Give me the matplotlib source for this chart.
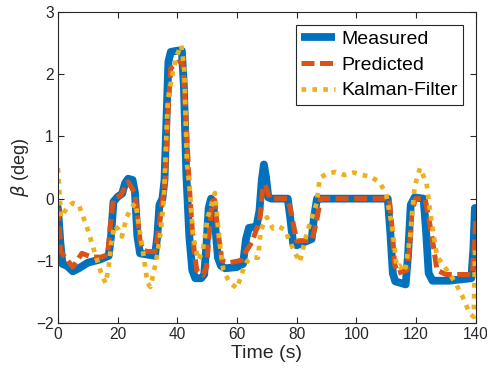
import matplotlib
matplotlib.use("Agg")
import matplotlib.pyplot as plt

plt.rcParams['font.family'] = ['Liberation Sans', 'DejaVu Sans']
plt.rcParams['mathtext.fontset'] = 'dejavusans'

# Measured
t_meas = [0, 0.8, 1.5, 3, 5, 7, 10, 14, 17, 17.8, 18.6, 20, 21.5, 22.5, 23.5, 25, 25.8,
          26.6, 27.5, 30, 32.5, 33.3, 34, 35, 35.7, 36.3, 37, 37.8, 40, 41.5, 42.2, 43,
          44, 45, 46, 48, 49, 49.8, 50.5, 51.3, 52, 52.8, 53.6, 54.6, 56, 60, 62, 63, 64,
          66.5, 67.5, 68.3, 69, 69.7, 70.5, 71.5, 77, 77.8, 78.8, 80, 85, 85.8, 86.8, 88,
          110.5, 111.3, 112.2, 113, 116.5, 117.3, 118.2, 119.5, 122.5, 123.3, 124.2, 125.5,
          131, 138.5, 139.2, 139.7]
v_meas = [-0.15, -0.7, -1.05, -1.08, -1.17, -1.12, -1.03, -0.98, -0.92, -0.6, -0.05, 0.03,
          0.08, 0.25, 0.32, 0.3, 0.1, -0.6, -0.88, -0.9, -0.92, -0.6, -0.1, 0.0, 0.3, 1.2,
          2.2, 2.36, 2.38, 2.38, 1.8, 0.4, -0.6, -1.15, -1.28, -1.28, -1.22, -0.7, -0.15,
          0.0, -0.05, -0.5, -0.95, -1.08, -1.12, -1.1, -1.05, -0.65, -0.47, -0.45, -0.2,
          0.3, 0.55, 0.35, 0.02, 0.0, 0.0, -0.3, -0.72, -0.75, -0.65, -0.3, 0.0, 0.0,
          0.0, -0.5, -1.2, -1.33, -1.38, -0.9, -0.1, 0.02, 0.0, -0.5, -1.2, -1.32,
          -1.32, -1.28, -0.8, -0.15]

# Predicted
t_pred = [0, 1, 2.3, 5, 8, 11.4, 14.7, 16.7, 17.5, 18.6, 21, 23.5, 25.8, 27.5, 28.5, 30,
          32.5, 33.2, 35, 36, 37, 37.8, 40.5, 41.8, 42.8, 44, 45.3, 46.5, 48.6, 49.8,
          50.8, 51.6, 52.5, 53.5, 55, 57.6, 61.6, 63, 65, 67.6, 68.7, 69.5, 71, 77,
          77.8, 78.7, 80, 85, 86, 86.7, 88, 111, 111.8, 112.8, 113.8, 117, 117.8, 118.6,
          119.8, 123, 123.8, 125.2, 127, 130, 138.8, 139.5, 140]
v_pred = [-0.15, -0.85, -0.94, -1.1, -0.88, -0.94, -0.94, -0.9, -0.45, 0.0, 0.05, 0.27,
          0.09, -0.67, -0.83, -0.85, -0.85, -0.67, -0.05, 0.3, 1.5, 2.1, 2.2, 2.2, 1.4,
          0.2, -0.7, -1.15, -1.23, -1.1, -0.5, -0.05, -0.02, -0.5, -1.0, -1.03, -0.99,
          -0.85, -0.7, -0.35, 0.2, 0.22, 0.0, 0.0, -0.15, -0.37, -0.68, -0.67, -0.5, -0.35,
          0.0, 0.0, -0.4, -1.05, -1.2, -1.15, -0.8, -0.2, 0.0, 0.0, -0.2, -0.58, -1.15,
          -1.22, -1.22, -0.8, -0.3]

# Kalman-Filter
t_kal = [0, 1, 3, 5, 7, 10, 12.4, 14.7, 16, 17, 18, 19, 20.3, 21.4, 23, 24.5, 26, 27.5,
         28.4, 30, 31, 33, 34.5, 35.5, 36.8, 38.5, 39.8, 41.3, 42.3, 43.2, 44.2, 45.3, 47,
         48.5, 50.2, 52.6, 54.2, 55.4, 57.5, 60, 62, 63.5, 65.4, 67, 68, 70, 72, 74, 76,
         78.7, 81, 83.4, 86.7, 87.7, 90, 93, 96, 99, 102, 105, 108, 110, 112, 113.5,
         114.5, 115.6, 116.5, 118, 119.5, 121.3, 123.5, 124.6, 127, 129.6, 133, 135.6,
         138, 139.3, 139.8]
v_kal = [0.49, -0.3, -0.15, -0.07, -0.1, -0.5, -0.88, -1.23, -1.36, -1.1, -0.66, -0.43,
         -0.5, -0.61, -0.3, -0.15, -0.07, -0.55, -0.82, -1.36, -1.42, -0.98, -0.5, 0.0,
         1.59, 2.03, 2.3, 2.47, 2.1, 0.57, 0.14, -0.61, -0.99, -0.85, -0.3, 0.09, -0.72,
         -1.15, -1.35, -1.44, -1.15, -1.0, -0.94, -0.95, -0.5, -0.3, -0.48, -0.45, -0.5,
         -0.8, -1.02, -0.55, -0.07, 0.33, 0.4, 0.43, 0.38, 0.42, 0.38, 0.35, 0.25, 0.06,
         -0.46, -1.1, -1.08, -1.18, -1.1, -0.61, 0.19, 0.49, 0.25, -0.18, -0.93, -1.1,
         -1.34, -1.58, -1.85, -1.9, -0.8]

x_ticks = [0, 20, 40, 60, 80, 100, 120, 140]
y_ticks = [-2, -1, 0, 1, 2, 3]

c_blue = '#0072BD'
c_red = '#D95319'
c_yel = '#EDB120'
dark = '#262626'

fig = plt.figure(figsize=(4.87, 3.78), dpi=100)
ax = fig.add_axes([0.119, 0.1455, 0.858, 0.8225])

ax.plot(t_meas, v_meas, color=c_blue, lw=5.6, solid_joinstyle='round',
        solid_capstyle='round', label='Measured')
ax.plot(t_pred, v_pred, color=c_red, lw=3.6, linestyle=(0, (2.6, 1.1)),
        dash_capstyle='butt', label='Predicted')
ax.plot(t_kal, v_kal, color=c_yel, lw=3.4, linestyle=(0, (1, 1.3)),
        dash_capstyle='butt', label='Kalman-Filter')

ax.set_xlim(0, 140)
ax.set_ylim(-2, 3)
ax.set_xticks(x_ticks)
ax.set_yticks(y_ticks)
ax.tick_params(direction='in', top=True, right=True, length=4, width=0.8,
               colors=dark, labelsize=11.2, pad=3)
for s in ax.spines.values():
    s.set_color(dark)
    s.set_linewidth(0.8)

ax.set_xlabel('Time (s)', fontsize=14, color=dark, labelpad=2)
ax.set_ylabel(r'$\beta$ (deg)', fontsize=13, color=dark, labelpad=4)

leg = ax.legend(loc='upper right', fontsize=14, frameon=True, fancybox=False,
                edgecolor=dark, framealpha=1, handlelength=1.75, handletextpad=0.3,
                labelspacing=0.42, borderpad=0.28, borderaxespad=0.65)
leg.get_frame().set_linewidth(0.8)
for h in leg.get_lines():
    h.set_solid_capstyle('butt')

fig.savefig('out.png', dpi=100)
